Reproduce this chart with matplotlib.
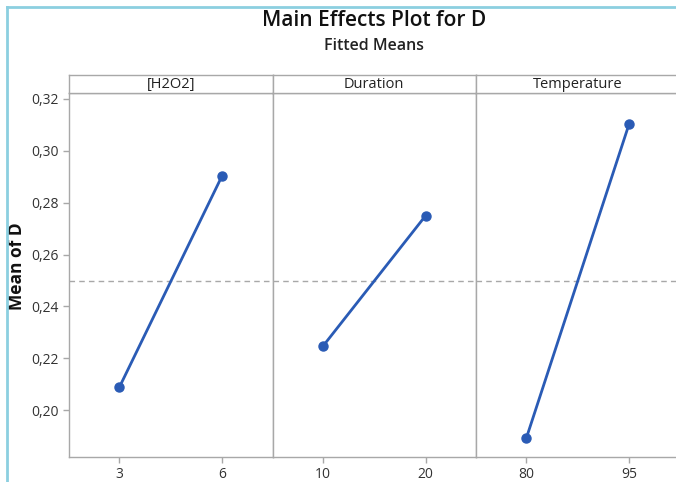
import matplotlib.pyplot as plt
from matplotlib.lines import Line2D
from matplotlib.ticker import FuncFormatter

plt.rcParams['font.family'] = ['Open Sans', 'DejaVu Sans']

# fitted means per factor level
factors = ["[H2O2]", "Duration", "Temperature"]
levels = [["3", "6"], ["10", "20"], ["80", "95"]]
means = [[0.2088, 0.2904], [0.2246, 0.2750], [0.1892, 0.3104]]
grand_mean = 0.2497
yticks = [0.20, 0.22, 0.24, 0.26, 0.28, 0.30, 0.32]

W, H = 676, 482
fig = plt.figure(figsize=(W / 100, H / 100), dpi=100)

grey = "#a8a8a8"
blue = "#2a5bb5"

left, right = 69, 679.5
top_strip, top_plot, bottom = 75, 93, 457
pw = (right - left) / 3

comma = FuncFormatter(lambda v, p: f"{v:.2f}".replace(".", ","))

for i, name in enumerate(factors):
    x0 = left + i * pw
    ax = fig.add_axes([x0 / W, 1 - bottom / H, pw / W, (bottom - top_plot) / H])
    xs = list(range(len(levels[i])))
    ax.plot(xs, means[i], color=blue, lw=2, marker="o", ms=6.5, zorder=3)
    ax.axhline(grand_mean, color=grey, lw=1, ls=(0, (4, 3)), zorder=1)
    ax.set_xlim(-0.49, 1.49)
    ax.set_ylim(0.1819, 0.3223)
    ax.set_xticks(xs)
    ax.set_xticklabels(levels[i])
    ax.set_yticks(yticks)
    ax.yaxis.set_major_formatter(comma)
    ax.tick_params(colors=grey, labelcolor="#333333", labelsize=10, length=4, width=1)
    for lab in ax.get_xticklabels() + ax.get_yticklabels():
        lab.set_fontweight("medium")
    for s in ax.spines.values():
        s.set_color(grey)
        s.set_linewidth(1)
    if i > 0:
        ax.tick_params(axis="y", left=False, labelleft=False)
    else:
        ax.set_ylabel("Mean of D", fontsize=12.5, fontweight="bold", color="#111111",
                      va="center")
        ax.yaxis.set_label_coords(-0.255, 0.525)

    # panel header strip
    sx = fig.add_axes([x0 / W, 1 - top_plot / H, pw / W, (top_plot - top_strip) / H])
    sx.set_xticks([])
    sx.set_yticks([])
    for s in sx.spines.values():
        s.set_color(grey)
        s.set_linewidth(1)
    sx.text(0.5, 0.45, name, ha="center", va="center", fontsize=10.5, color="#222222",
            transform=sx.transAxes)

# titles centred over the panels
cx = (left + right) / 2 / W
fig.text(cx, 1 - 21 / H, "Main Effects Plot for D", ha="center", va="center",
         fontsize=15, fontweight="semibold", color="#111111")
fig.text(cx, 1 - 46 / H, "Fitted Means", ha="center", va="center",
         fontsize=11.5, fontweight="semibold", color="#222222")

# light blue frame on top and left
fig.add_artist(Line2D([7 / W, 1], [1 - 7 / H, 1 - 7 / H], color="#8ccfe0", lw=2))
fig.add_artist(Line2D([7 / W, 7 / W], [0, 1 - 7 / H], color="#8ccfe0", lw=2))

fig.savefig("out.png", dpi=100)
